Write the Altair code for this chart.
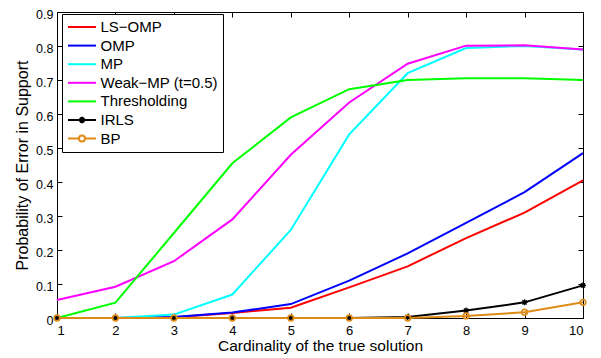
import altair as alt
import pandas as pd

cardinality = [1, 2, 3, 4, 5, 6, 7, 8, 9, 10]
series_names = ["LS\u2212OMP", "OMP", "MP", "Weak\u2212MP (t=0.5)", "Thresholding", "IRLS", "BP"]
ls_omp = [0, 0, 0.002, 0.015, 0.03, 0.09, 0.152, 0.235, 0.31, 0.405]
omp = [0, 0, 0.003, 0.016, 0.041, 0.11, 0.19, 0.28, 0.37, 0.485]
mp = [0, 0, 0.01, 0.069, 0.259, 0.54, 0.72, 0.794, 0.80, 0.79]
weak_mp = [0.053, 0.092, 0.167, 0.29, 0.48, 0.634, 0.748, 0.801, 0.802, 0.79]
thresholding = [0, 0.045, 0.25, 0.455, 0.59, 0.673, 0.70, 0.705, 0.705, 0.70]
irls = [0, 0, 0, 0, 0, 0, 0.003, 0.022, 0.046, 0.096]
bp = [0, 0, 0, 0, 0, 0, 0, 0.006, 0.017, 0.046]
y_ticks = [0, 0.1, 0.2, 0.3, 0.4, 0.5, 0.6, 0.7, 0.8, 0.9]

colors = ["#FF0000", "#0000FF", "#00FFFF", "#FF00FF", "#00FF00", "#000000", "#DE8A16"]

all_vals = [ls_omp, omp, mp, weak_mp, thresholding, irls, bp]
rows = []
for name, vals in zip(series_names, all_vals):
    for k, v in zip(cardinality, vals):
        rows.append({"k": k, "p": v, "series": name})
df = pd.DataFrame(rows)

FONT = "Liberation Sans"

line_path = "M-1,0H3"
irls_legend_path = "M-1,0H3M1,-0.45V0.45M0.55,0H1.45M0.68,-0.32L1.32,0.32M0.68,0.32L1.32,-0.32"
bp_legend_path = "M-1,0H0.57M1.43,0H3M1.43,0A0.43,0.43 0 1 1 0.57,0A0.43,0.43 0 1 1 1.43,0"
shape_paths = [line_path] * 5 + [irls_legend_path, bp_legend_path]

xscale = alt.Scale(domain=[1, 10], nice=False, zero=False)
yscale = alt.Scale(domain=[0, 0.9], nice=False)

x_bottom = alt.X("k:Q", scale=xscale, axis=alt.Axis(
    orient="bottom", values=cardinality, format="d", offset=-5, tickSize=5,
    domain=False, grid=False, labelPadding=6, labelFontSize=13, labelFont=FONT,
    labelFontWeight="normal", labelColor="black", tickColor="black",
    title="Cardinality of the true solution",
    titleFont=FONT, titleFontSize=15.5, titleFontWeight="normal", titleColor="black",
    titlePadding=1))
y_left = alt.Y("p:Q", scale=yscale, axis=alt.Axis(
    orient="left", values=y_ticks,
    labelExpr="datum.value == 0 ? '0' : format(datum.value, '.1f')",
    offset=-5, tickSize=5, domain=False, grid=False, labelPadding=4,
    labelOffset=2.5, labelFontSize=12.5, labelFont=FONT, labelFontWeight="normal",
    labelColor="black", tickColor="black",
    title="Probability of Error in Support", titleFont=FONT, titleFontSize=16,
    titleFontWeight="normal", titleColor="black", titlePadding=5))

x_plain = alt.X("k:Q", scale=xscale, axis=None)
y_plain = alt.Y("p:Q", scale=yscale, axis=None)

legend = alt.Legend(
    title=None, orient="none", legendX=5, legendY=2, labelFont=FONT,
    labelFontSize=15, labelColor="black", strokeColor="black", fillColor="white",
    padding=5, symbolSize=196, symbolStrokeWidth=2, symbolOpacity=1,
    labelOffset=17.5, rowPadding=2.6, cornerRadius=0, labelLimit=300)

color = alt.Color("series:N", scale=alt.Scale(domain=series_names, range=colors), legend=legend)

base = alt.Chart(df)

lines = base.mark_line(strokeWidth=2).encode(x=x_bottom, y=y_left, color=color, order="k:Q")

ghost = base.mark_point(opacity=0, filled=False).encode(
    x=x_plain, y=y_plain, color=color,
    shape=alt.Shape("series:N", scale=alt.Scale(domain=series_names, range=shape_paths), legend=legend))

irls_pts = base.transform_filter(alt.datum.series == "IRLS").mark_point(
    shape="M0,-1V1M-1,0H1M-0.7,-0.7L0.7,0.7M-0.7,0.7L0.7,-0.7", size=36,
    strokeWidth=1.3, color="black", opacity=1).encode(x=x_plain, y=y_plain)

bp_pts = base.transform_filter(alt.datum.series == "BP").mark_point(
    shape="circle", size=32, strokeWidth=1.6, color="#DE8A16", filled=False,
    opacity=1).encode(x=x_plain, y=y_plain)

frame_axes = base.mark_point(opacity=0).encode(
    x=alt.X("k:Q", scale=xscale, axis=alt.Axis(orient="top", values=cardinality,
            labels=False, offset=-5, tickSize=5, domain=False, grid=False,
            tickColor="black", title=None)),
    y=alt.Y("p:Q", scale=yscale, axis=alt.Axis(orient="right",
            values=y_ticks, labels=False,
            offset=-5, tickSize=5, domain=False, grid=False, tickColor="black",
            title=None)))

chart = alt.layer(lines, ghost, irls_pts, bp_pts, frame_axes).properties(
    width=526, height=306,
    autosize=alt.AutoSizeParams(type="none"),
    padding={"left": 49, "top": 4, "right": 10, "bottom": 36},
    background="white",
).configure_view(stroke="black", strokeWidth=1)

chart.save("out.html", embed_options={"renderer": "svg", "actions": False})
